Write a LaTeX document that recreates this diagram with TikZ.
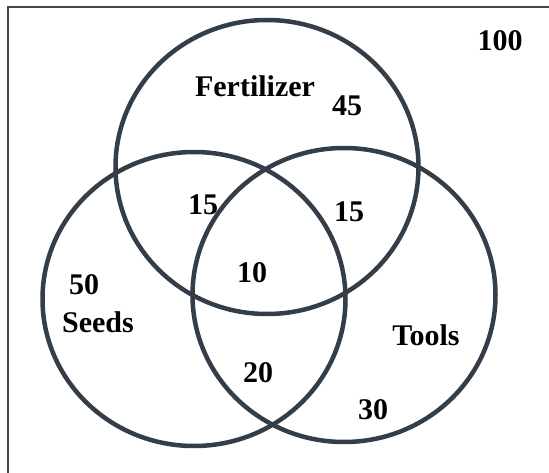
\documentclass[tikz,border=0pt]{standalone}
\usepackage{fontspec}
\setmainfont{Liberation Serif}
\definecolor{ring}{RGB}{52,62,72}
\definecolor{frame}{RGB}{70,70,70}
\begin{document}
\begin{tikzpicture}[x=1pt,y=-1pt,
  ringline/.style={draw=ring,line width=4.5pt},
  lbl/.style={font=\fontsize{30}{32}\selectfont\bfseries,inner sep=0pt,text=black}]
\useasboundingbox (0,0) rectangle (549,473);
\draw[frame,line width=2pt] (7.5,473) -- (7.5,7.5) -- (549,7.5);
\draw[ringline] (267,167) ellipse [x radius=151.5,y radius=147];
\draw[ringline] (194,299) ellipse [x radius=151.5,y radius=147];
\draw[ringline] (344,295) ellipse [x radius=151.5,y radius=147];
\node[lbl] (u) at (500,41) {100};
\node[lbl] (f) at (255,86) {Fertilizer};
\node[lbl] (f45) at (347,106) {45};
\node[lbl] (fs) at (203,205) {15};
\node[lbl] (ft) at (349,212) {15};
\node[lbl] (c) at (252,273) {10};
\node[lbl] (s50) at (84,285) {50};
\node[lbl] (s) at (98,322) {Seeds};
\node[lbl] (t) at (426,335) {Tools};
\node[lbl] (st) at (258,373) {20};
\node[lbl] (t30) at (373,410) {30};
\end{tikzpicture}
\end{document}
